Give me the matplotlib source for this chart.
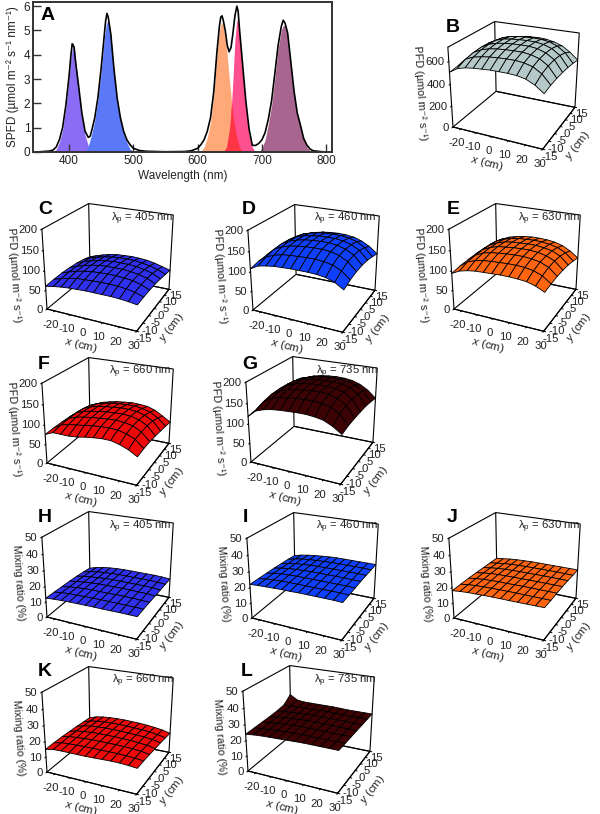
import numpy as np
import matplotlib
matplotlib.use('Agg')
import matplotlib.pyplot as plt
from mpl_toolkits.mplot3d import proj3d

plt.rcParams['font.family'] = ['Liberation Sans', 'DejaVu Sans']
plt.rcParams['mathtext.fontset'] = 'custom'
plt.rcParams['mathtext.rm'] = 'Liberation Sans'
plt.rcParams['mathtext.it'] = 'Liberation Sans:italic'
plt.rcParams['mathtext.default'] = 'regular'
plt.rcParams['axes.unicode_minus'] = False

# spectra, panel A
wl_405 = [370, 375, 380, 385, 390, 395, 400, 403, 405, 407, 409, 412, 415, 420, 425, 430, 435, 440]
val_405 = [0, 0.03, 0.1, 0.4, 0.9, 1.8, 3.0, 3.9, 4.2, 4.35, 4.15, 3.4, 2.6, 1.4, 0.7, 0.25, 0.05, 0]
wl_460 = [420, 425, 430, 435, 440, 445, 450, 455, 458, 460, 462, 465, 470, 475, 480, 485, 490, 495, 500]
val_460 = [0, 0.04, 0.25, 0.7, 1.3, 2.15, 3.3, 4.7, 5.25, 5.4, 5.3, 4.8, 3.3, 2.1, 1.3, 0.75, 0.4, 0.12, 0.02]
wl_630 = [600, 605, 610, 615, 620, 625, 630, 634, 637, 640, 645, 650, 655, 660, 665, 670]
val_630 = [0, 0.02, 0.2, 0.6, 1.2, 2.3, 4.0, 5.0, 5.35, 5.2, 4.3, 2.8, 1.5, 0.7, 0.2, 0]
wl_660 = [640, 645, 650, 653, 655, 658, 661, 663, 665, 670, 675, 680, 685, 690]
val_660 = [0, 0.2, 1.0, 2.1, 3.0, 4.6, 5.45, 5.35, 4.8, 3.3, 1.8, 0.7, 0.2, 0]
wl_735 = [695, 700, 705, 710, 715, 720, 725, 730, 733, 736, 740, 745, 750, 755, 760, 765, 770, 775, 780]
val_735 = [0, 0.15, 0.5, 1.15, 1.9, 3.0, 4.2, 5.0, 5.2, 5.2, 4.8, 3.6, 2.4, 1.5, 1.05, 0.5, 0.2, 0.05, 0]
wl_total = [350, 360, 370, 375, 380, 385, 390, 395, 400, 403, 405, 406, 408, 410, 415, 420, 425, 430, 433, 435,
            440, 445, 450, 455, 457, 459, 461, 463, 465, 470, 475, 480, 485, 490, 495, 500, 510, 520, 550, 580,
            590, 600, 605, 610, 615, 620, 625, 630, 634, 636, 638, 640, 643, 646, 649, 652, 655, 658, 661, 663,
            665, 670, 675, 680, 685, 688, 690, 695, 700, 705, 710, 715, 720, 725, 730, 733, 736, 740, 745, 750,
            755, 760, 765, 770, 775, 780, 790, 800]
val_total = [0, 0.02, 0.04, 0.08, 0.2, 0.5, 1.0, 1.9, 3.1, 4.0, 4.45, 4.42, 4.3, 3.75, 2.7, 1.6, 0.85, 0.6, 0.65, 0.85,
             1.4, 2.25, 3.45, 4.85, 5.4, 5.7, 5.55, 5.2, 4.85, 3.4, 2.2, 1.4, 0.85, 0.5, 0.3, 0.15, 0.06, 0.03, 0.01, 0.02,
             0.05, 0.15, 0.3, 0.5, 0.85, 1.4, 2.45, 4.1, 5.2, 5.55, 5.6, 5.4, 5.0, 4.4, 4.12, 4.3, 4.9, 5.6, 6.0, 5.8,
             5.1, 3.6, 2.1, 0.95, 0.28, 0.27, 0.27, 0.35, 0.5, 0.8, 1.35, 2.1, 3.2, 4.35, 5.15, 5.42, 5.3, 4.9, 3.7, 2.5,
             1.6, 1.1, 0.55, 0.28, 0.12, 0.05, 0.02, 0]

# surfaces, rows are y = -15..15, columns are x = -25..30
x_grid = [-25, -20, -15, -10, -5, 0, 5, 10, 15, 20, 25, 30]
y_grid = [-15, -10, -5, 0, 5, 10, 15]
x_ticks = [-20, -10, 0, 10, 20, 30]
y_ticks = [-15, -10, -5, 0, 5, 10, 15]
pfd_ticks = [0, 50, 100, 150, 200]
total_ticks = [0, 200, 400, 600]
mix_ticks = [0, 10, 20, 30, 40, 50]

pfd_total = [[505, 550, 570, 580, 585, 590, 590, 590, 585, 570, 535, 480],
             [515, 585, 615, 630, 640, 645, 648, 648, 640, 620, 575, 495],
             [520, 600, 635, 655, 665, 670, 672, 672, 662, 640, 592, 500],
             [520, 605, 642, 662, 672, 678, 680, 680, 670, 645, 598, 500],
             [515, 600, 638, 660, 670, 675, 678, 676, 665, 640, 590, 495],
             [510, 585, 622, 645, 655, 660, 662, 660, 648, 620, 570, 485],
             [490, 552, 585, 605, 615, 622, 625, 620, 605, 580, 532, 470]]
pfd_405 = [[60, 64, 67, 69, 70, 71, 71, 71, 71, 70, 68, 65],
           [62, 68, 73, 77, 78, 79, 80, 80, 79, 77, 73, 66],
           [63, 70, 76, 80, 83, 84, 85, 85, 83, 81, 75, 66],
           [62, 70, 76, 81, 84, 86, 86, 86, 84, 81, 75, 65],
           [60, 68, 74, 79, 82, 84, 84, 84, 82, 78, 72, 62],
           [56, 64, 70, 75, 78, 80, 80, 80, 77, 73, 67, 58],
           [50, 57, 63, 68, 71, 72, 73, 72, 70, 66, 60, 54]]
pfd_460 = [[107, 118, 122, 125, 126, 127, 127, 127, 126, 123, 116, 103],
           [112, 126, 134, 139, 141, 142, 143, 143, 141, 137, 127, 110],
           [114, 132, 141, 147, 150, 152, 153, 153, 151, 145, 134, 114],
           [114, 133, 143, 149, 153, 155, 156, 156, 153, 147, 136, 115],
           [113, 131, 141, 148, 151, 154, 154, 154, 151, 145, 134, 113],
           [111, 127, 137, 143, 147, 149, 150, 149, 146, 140, 128, 108],
           [107, 119, 127, 133, 137, 139, 140, 139, 136, 129, 118, 102]]
pfd_630 = [[93, 103, 108, 111, 112, 113, 114, 114, 113, 111, 105, 95],
           [97, 111, 118, 122, 124, 125, 126, 126, 125, 121, 113, 98],
           [99, 114, 123, 128, 130, 132, 133, 133, 131, 127, 118, 100],
           [100, 115, 124, 130, 132, 134, 135, 135, 133, 128, 119, 100],
           [100, 114, 123, 129, 132, 133, 134, 134, 131, 127, 117, 98],
           [99, 112, 120, 126, 129, 130, 131, 130, 127, 122, 112, 94],
           [96, 106, 114, 119, 122, 124, 124, 123, 120, 114, 103, 88]]
pfd_660 = [[75, 84, 84, 84, 86, 90, 93, 95, 95, 90, 82, 70],
           [76, 88, 93, 96, 99, 102, 104, 105, 104, 99, 90, 72],
           [76, 90, 97, 101, 104, 106, 108, 109, 107, 103, 92, 72],
           [75, 90, 98, 102, 105, 108, 109, 110, 108, 103, 92, 70],
           [73, 88, 96, 101, 104, 106, 108, 108, 106, 100, 89, 67],
           [69, 83, 91, 96, 100, 102, 103, 103, 100, 94, 82, 64],
           [63, 74, 82, 87, 91, 93, 95, 94, 92, 85, 73, 60]]
pfd_735 = [[118, 135, 142, 146, 148, 149, 150, 150, 148, 144, 134, 120],
           [122, 145, 155, 161, 164, 166, 167, 167, 165, 160, 148, 125],
           [124, 150, 161, 168, 171, 173, 175, 175, 173, 167, 154, 127],
           [124, 151, 163, 170, 174, 176, 177, 177, 174, 169, 156, 128],
           [124, 150, 162, 169, 173, 175, 176, 176, 173, 168, 155, 128],
           [123, 147, 158, 164, 168, 171, 172, 171, 168, 162, 150, 126],
           [122, 139, 149, 156, 160, 162, 163, 162, 159, 152, 140, 122]]
mix_405 = [[12.5, 13, 13.3, 13.5, 13.6, 13.7, 13.8, 13.8, 13.9, 14, 14, 14],
           [12.3, 13, 13.4, 13.6, 13.8, 13.9, 14, 14, 14, 14, 14, 14],
           [12, 12.8, 13.4, 13.8, 14, 14, 14, 14.2, 14.2, 14.2, 14, 13.8],
           [11.8, 12.6, 13.2, 13.6, 14, 14, 14.2, 14.2, 14.2, 14, 14, 13.6],
           [11.4, 12.4, 13, 13.4, 13.8, 14, 14, 14, 14, 14, 13.8, 13.4],
           [10.8, 12, 12.8, 13.2, 13.6, 13.8, 13.8, 13.8, 13.8, 13.8, 13.6, 13.2],
           [10, 11.4, 12.4, 13, 13.4, 13.6, 13.6, 13.6, 13.6, 13.6, 13.4, 13]]
mix_460 = [[22, 22.4, 22.6, 22.8, 23, 23, 23.2, 23.2, 23.2, 23.2, 23.2, 23],
           [21.8, 22.6, 23, 23.2, 23.4, 23.4, 23.4, 23.4, 23.4, 23.4, 23.4, 23.2],
           [21.6, 22.6, 23.2, 23.4, 23.6, 23.6, 23.6, 23.6, 23.6, 23.6, 23.6, 23.4],
           [21.4, 22.4, 23, 23.4, 23.6, 23.8, 23.8, 23.8, 23.8, 23.8, 23.6, 23.6],
           [21, 22, 22.8, 23.2, 23.6, 23.8, 23.8, 23.8, 23.8, 23.8, 23.8, 23.6],
           [20.6, 21.8, 22.6, 23, 23.4, 23.6, 23.8, 23.8, 23.8, 23.8, 23.8, 23.6],
           [20, 21.2, 22, 22.6, 23, 23.4, 23.6, 23.6, 23.6, 23.6, 23.6, 23.6]]
mix_630 = [[18, 18.6, 19, 19.2, 19.4, 19.5, 19.6, 19.6, 19.7, 19.8, 19.9, 20],
           [18.2, 18.9, 19.4, 19.6, 19.8, 19.9, 20, 20, 20, 20, 20, 20],
           [18.3, 19, 19.6, 19.8, 20, 20, 20.1, 20.2, 20.2, 20.2, 20.2, 20.2],
           [18.3, 19.1, 19.7, 20, 20.1, 20.2, 20.2, 20.3, 20.3, 20.3, 20.3, 20.3],
           [18.2, 19, 19.6, 19.9, 20.1, 20.2, 20.2, 20.3, 20.3, 20.3, 20.3, 20.2],
           [18.1, 18.8, 19.4, 19.8, 20, 20.1, 20.2, 20.2, 20.2, 20.2, 20.1, 20],
           [18, 18.6, 19.2, 19.6, 19.8, 20, 20, 20, 20, 20, 20, 20]]
mix_660 = [[15, 16, 16.2, 16.2, 16.2, 16.2, 16.4, 16.6, 16.8, 16.8, 16.5, 16],
           [15.2, 16.2, 16.6, 16.8, 17, 17, 17, 17, 17, 16.8, 16.5, 16],
           [15.2, 16.4, 16.8, 17.2, 17.4, 17.4, 17.4, 17.4, 17.2, 17, 16.5, 15.6],
           [15, 16.4, 17, 17.4, 17.6, 17.6, 17.6, 17.4, 17.2, 16.8, 16.2, 15.2],
           [14.8, 16.2, 17, 17.4, 17.6, 17.6, 17.4, 17.2, 17, 16.6, 16, 14.8],
           [14.4, 16, 16.8, 17.2, 17.4, 17.4, 17.2, 17, 16.6, 16.2, 15.4, 14.2],
           [14, 15.6, 16.4, 16.8, 17, 17, 16.8, 16.6, 16.2, 15.6, 14.8, 13.5]]
mix_735 = [[24, 24.6, 25, 25.2, 25.4, 25.6, 25.8, 26, 26, 26, 26, 26],
           [24.2, 24.8, 25.2, 25.6, 25.8, 26, 26, 26, 26, 26, 26, 26],
           [24.4, 25, 25.4, 25.8, 26, 26.2, 26.2, 26.2, 26.2, 26, 26, 26],
           [24.6, 25.2, 25.6, 26, 26.2, 26.4, 26.4, 26.2, 26.2, 26.2, 26, 26],
           [25, 25.4, 25.8, 26, 26.2, 26.4, 26.4, 26.2, 26.2, 26.2, 26, 26],
           [25.8, 25.8, 26, 26.2, 26.2, 26.4, 26.4, 26.2, 26.2, 26, 26, 26],
           [30, 27, 26.4, 26.4, 26.4, 26.4, 26.4, 26.2, 26, 26, 26, 26]]

pfd_label = 'PFD (\u00b5mol m\u207b\u00b2 s\u207b\u00b9)'
mix_label = 'Mixing ratio (%)'

# letter, table, colour, wavelength, front-left floor corner in pixels, letter pos, lambda pos
panels = [
    ('B', pfd_total, '#b6c9c9', None, (453, 127), (453, 28), None),
    ('C', pfd_405, '#3030f0', 405, (47, 309), (45, 210), (142, 221)),
    ('D', pfd_460, '#1040ff', 460, (253, 310), (249, 210), (345, 221)),
    ('E', pfd_630, '#ff6410', 630, (454, 309), (453, 210), (549, 221)),
    ('F', pfd_660, '#ee0a0a', 660, (47, 463), (44, 365), (140, 374)),
    ('G', pfd_735, '#3c0204', 735, (251, 462), (250, 365), (347, 374)),
    ('H', mix_405, '#3030f0', 405, (47, 617), (45, 518), (140, 529)),
    ('I', mix_460, '#1040ff', 460, (252, 618), (245, 518), (347, 529)),
    ('J', mix_630, '#ff6410', 630, (454, 618), (452, 518), (549, 529)),
    ('K', mix_660, '#ee0a0a', 660, (47, 772), (45, 672), (143, 683)),
    ('L', mix_735, '#3c0204', 735, (248, 771), (247, 672), (345, 683)),
]

W, H = 600, 814
BOX = (104.9, 101.0, 91.6)
fig = plt.figure(figsize=(W / 100, H / 100), dpi=100)


def fx(x):
    return x / W


def fy(y):
    return 1 - y / H


def corner_px(ax, x, y, z):
    ax.apply_aspect()
    px, py, _ = proj3d.proj_transform(x, y, z, ax.get_proj())
    return ax.transData.transform((px, py))


# panel A
axA = fig.add_axes([fx(33), fy(152), (332 - 33) / W, 150 / H])
lines_x = np.arange(350, 800.5, 0.5)
s405 = np.interp(lines_x, wl_405, val_405)
s460 = np.interp(lines_x, wl_460, val_460)
s630 = np.interp(lines_x, wl_630, val_630)
s660 = np.interp(lines_x, wl_660, val_660)
s735 = np.interp(lines_x, wl_735, val_735)
axA.fill_between(lines_x, 0, s405, color='#8a6cf5', lw=0)
axA.fill_between(lines_x, 0, s460, color='#5a78f8', lw=0)
axA.fill_between(lines_x, 0, s630, color='#ffa878', lw=0)
axA.fill_between(lines_x, 0, s660, color='#ff5090', lw=0)
axA.fill_between(lines_x, 0, np.minimum(s630, s660), color='#ff3545', lw=0)
axA.fill_between(lines_x, 0, s735, color='#a86590', lw=0)
axA.plot(wl_total, val_total, color='k', lw=1.2)
axA.set_xlim(344, 809)
axA.set_ylim(0, 6.17)
axA.set_xticks([400, 500, 600, 700, 800])
axA.set_yticks([0, 1, 2, 3, 4, 5, 6])
axA.tick_params(direction='in', length=6, width=1, labelsize=8.5, pad=2, color='#333333', labelcolor='#222222')
for s in axA.spines.values():
    s.set_linewidth(1.4)
    s.set_color('#333333')
axA.set_xlabel('Wavelength (nm)', fontsize=8.5, labelpad=2, color='#222222')
axA.set_ylabel('SPFD (\u00b5mol m\u207b\u00b2 s\u207b\u00b9 nm\u207b\u00b9)', fontsize=8.5, labelpad=3, color='#222222')
fig.text(fx(48), fy(15), 'A', fontsize=14, fontweight='bold', ha='center', va='center')

# panels B to L
X, Y = np.meshgrid(x_grid, y_grid)
for letter, table, colour, lam, corner, letter_pos, lam_pos in panels:
    ax = fig.add_axes([fx(corner[0] - 30), fy(corner[1] + 30), 170 / W, 170 / H], projection='3d')
    ax.patch.set_alpha(0)
    ax.view_init(elev=23.56, azim=-64.83)
    ax.set_proj_type('persp', focal_length=0.491)
    ax.plot_surface(X, Y, np.array(table), color=colour, edgecolor='k', linewidth=0.6,
                    rstride=1, cstride=1, shade=False, antialiased=True)
    ax.set_xlim(-25, 30, view_margin=0)
    ax.set_ylim(-15, 15, view_margin=0)
    if table is pfd_total:
        ax.set_zlim(0, 720, view_margin=0)
        ax.set_zticks(total_ticks)
        zlabel, zpad = pfd_label, -7
    elif letter in 'CDEFG':
        ax.set_zlim(0, 200, view_margin=0)
        ax.set_zticks(pfd_ticks)
        zlabel, zpad = pfd_label, -7
    else:
        ax.set_zlim(0, 50, view_margin=0)
        ax.set_zticks(mix_ticks)
        zlabel, zpad = mix_label, -9
    ax.set_xticks(x_ticks)
    ax.set_yticks(y_ticks)
    ax.grid(False)
    ax.zaxis.set_ticks_position('lower')
    ax.zaxis.set_label_position('lower')
    for axis in (ax.xaxis, ax.yaxis, ax.zaxis):
        axis.pane.set_facecolor((1, 1, 1, 0))
        axis.pane.set_edgecolor('k')
        axis.pane.set_alpha(None)
        axis.pane.set_linewidth(0.8)
        axis.line.set_linewidth(0.8)
        axis._axinfo['tick']['inward_factor'] = 0.25
        axis._axinfo['tick']['outward_factor'] = 0
        axis._axinfo['tick']['linewidth'] = {True: 0.7, False: 0.5}
    ax.tick_params(axis='both', labelsize=8.2, pad=-3, labelcolor='#222222')
    ax.tick_params(axis='z', pad=-6)
    plt.setp(ax.get_yticklabels(), va='center', ha='center')
    plt.setp(ax.get_zticklabels(), va='center', ha='right')
    ax.set_xlabel(r'$\mathit{x}$ (cm)', fontsize=8.2, labelpad=-8, color='#222222')
    ax.set_ylabel(r'$\mathit{y}$ (cm)', fontsize=8.2, labelpad=-8, color='#222222')
    ax.set_zlabel(zlabel, fontsize=7.8, labelpad=zpad, color='#222222')

    # scale and shift so that the floor lands on the reference position
    ax.set_box_aspect(BOX, zoom=1)
    p0 = corner_px(ax, -25, -15, 0)
    p1 = corner_px(ax, 30, -15, 0)
    ax.set_box_aspect(BOX, zoom=90 / (p1[0] - p0[0]))
    p0 = corner_px(ax, -25, -15, 0)
    pos = ax.get_position()
    ax.set_position([pos.x0 + (corner[0] - p0[0]) / W, pos.y0 + ((H - corner[1]) - p0[1]) / H, pos.width, pos.height])

    fig.text(fx(letter_pos[0]), fy(letter_pos[1]), letter, fontsize=14, fontweight='bold', ha='center', va='center')
    if lam is not None:
        fig.text(fx(lam_pos[0]), fy(lam_pos[1]), '\u03bb$_{p}$ = %d nm' % lam, fontsize=8.2,
                 ha='center', va='baseline', color='#222222')

fig.savefig('out.png', dpi=100)
